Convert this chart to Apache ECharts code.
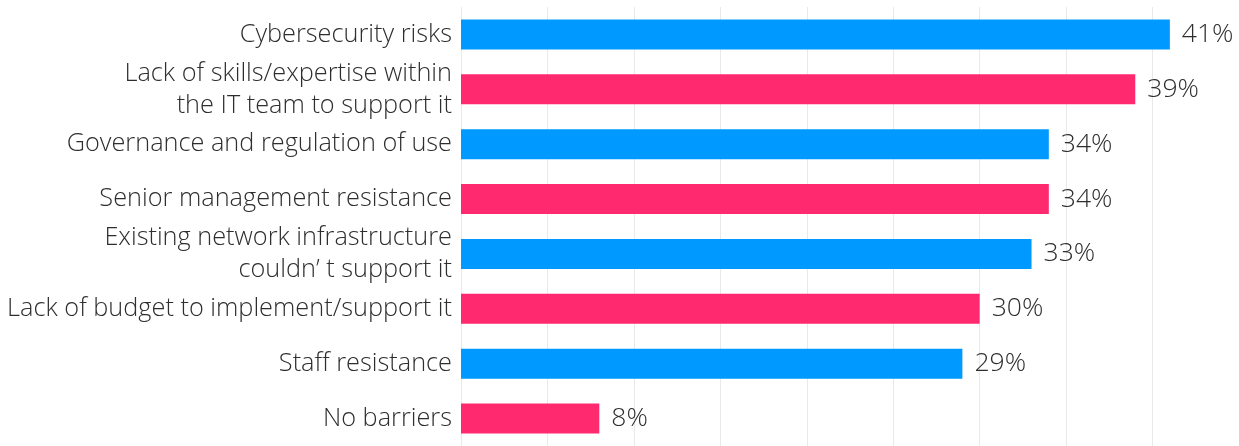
<!DOCTYPE html>
<html>
<head>
<meta charset="utf-8">
<style>
  html, body { margin: 0; padding: 0; background: #ffffff; }
  #chart { width: 1239px; height: 446px; }
</style>
<script src="https://cdn.jsdelivr.net/npm/echarts@6/dist/echarts.min.js"></script>
</head>
<body>
<div id="chart"></div>
<script>
// Barriers to adoption, share of respondents (%)
const categories = [
  'Cybersecurity risks',
  'Lack of skills/expertise within\nthe IT team to support it',
  'Governance and regulation of use',
  'Senior management resistance',
  'Existing network infrastructure\ncouldn\u2019 t support it',
  'Lack of budget to implement/support it',
  'Staff resistance',
  'No barriers'
];
const values = [41, 39, 34, 34, 33, 30, 29, 8];
const barColors = ['#0099ff', '#ff2970'];

const FONT = '"Open Sans", "Noto Sans", sans-serif';

const chart = echarts.init(document.getElementById('chart'), null, { renderer: 'canvas' });

chart.setOption({
  animation: false,
  backgroundColor: '#ffffff',
  grid: { left: 461, right: 0, top: 7, bottom: -4, containLabel: false },
  xAxis: {
    type: 'value',
    min: 0,
    max: 45,
    interval: 5,
    axisLabel: { show: false },
    axisLine: { show: false },
    axisTick: { show: false },
    splitLine: { show: true, lineStyle: { color: '#e9e9e9', width: 1 } }
  },
  yAxis: {
    type: 'category',
    inverse: true,
    data: categories,
    axisLine: { show: false },
    axisTick: { show: false },
    axisLabel: {
      margin: 9,
      fontFamily: FONT,
      fontWeight: 300,
      fontSize: 25.3,
      lineHeight: 32,
      padding: [0, 0, 5, 0],
      color: '#2e2e2e',
      align: 'right'
    }
  },
  series: [{
    type: 'bar',
    data: values.map((v, i) => ({ value: v, itemStyle: { color: barColors[i % 2] } })),
    barWidth: 30,
    label: {
      show: true,
      position: 'right',
      distance: 12,
      formatter: '{c}%',
      fontFamily: FONT,
      fontWeight: 300,
      fontSize: 26.5,
      color: '#2e2e2e'
    }
  }]
});
</script>
</body>
</html>
